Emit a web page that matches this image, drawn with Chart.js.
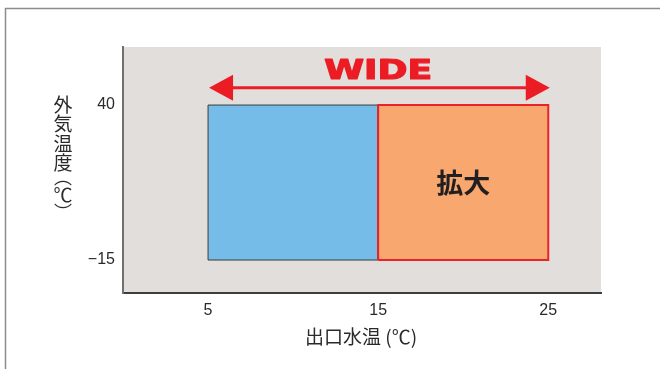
<!DOCTYPE html>
<html><head><meta charset="utf-8">
<script src="https://cdn.jsdelivr.net/npm/chart.js@4"></script>
<style>html,body{margin:0;padding:0;background:#fff;overflow:hidden}#wrap{width:660px;height:369px;position:relative}</style>
</head><body><div id="wrap"><canvas id="c" width="660" height="369"></canvas></div>
<script>
// ---- data ----
const xTicks = [5, 15, 25];
const yTicks = [-15, 40];
const yTickLabels = ['\u221215', '40'];
const zoneNames = ['従来範囲', '拡大'];
const zoneLabels = ['', '拡大'];
const zoneXFrom = [5, 15];
const zoneXTo = [15, 25];
const zoneYFrom = [-15, -15];
const zoneYTo = [40, 40];
const arrowXRange = [5, 25];
const arrowYValue = [46.1];
const arrowLabel = ['WIDE'];
const arrowLabelY = [52.6];
const xTitle = '出口水温 (℃)';
const yTitleChars = ['外', '気', '温', '度', '︵', '℃', '︶'];
const xRange = [0, 28.1];
const yRange = [-26.7, 60.6];

// ---- styles ----
const zoneFill = ['#75bde8', '#f8a86f'];
const zoneBorder = ['#3b3b3b', '#ec2229'];
const zoneBorderW = [1, 2];
const RED = '#ec1c24';
const TXT = '#2a2a2a';
const CJK = '"Noto Sans CJK JP", "Noto Sans CJK SC", sans-serif';

const datasets = zoneXFrom.map((x0, i) => ({
  label: zoneNames[i],
  data: [
    {x: x0, y: zoneYFrom[i]}, {x: x0, y: zoneYTo[i]},
    {x: zoneXTo[i], y: zoneYTo[i]}, {x: zoneXTo[i], y: zoneYFrom[i]},
    {x: x0, y: zoneYFrom[i]}
  ],
  fill: 'shape',
  backgroundColor: zoneFill[i],
  borderColor: zoneBorder[i],
  borderWidth: zoneBorderW[i],
  borderJoinStyle: 'miter',
  pointRadius: 0,
  pointHoverRadius: 0,
  tension: 0,
  order: zoneXFrom.length - i
}));

const decor = {
  id: 'decor',
  beforeDraw(chart) {
    const {ctx, chartArea: a} = chart;
    ctx.save();
    ctx.fillStyle = '#fff';
    ctx.fillRect(0, 0, chart.width, chart.height);
    ctx.fillStyle = '#e2dedc';
    ctx.fillRect(a.left, a.top, a.right - a.left, a.bottom - a.top);
    ctx.strokeStyle = '#8c8c8c';
    ctx.lineWidth = 1.5;
    ctx.beginPath();
    ctx.moveTo(5.5, chart.height + 2);
    ctx.lineTo(5.5, 8.5);
    ctx.lineTo(chart.width + 2, 8.5);
    ctx.stroke();
    ctx.restore();
  },
  afterDatasetsDraw(chart) {
    const {ctx, scales: {x, y}} = chart;
    ctx.save();
    // arrow
    const xa = x.getPixelForValue(arrowXRange[0]) + 1;
    const xb = x.getPixelForValue(arrowXRange[1]) + 1.5;
    const ya = y.getPixelForValue(arrowYValue[0]);
    const head = 24, half = 13;
    ctx.strokeStyle = RED; ctx.fillStyle = RED; ctx.lineWidth = 3;
    ctx.beginPath(); ctx.moveTo(xa + head - 2, ya); ctx.lineTo(xb - head + 2, ya); ctx.stroke();
    ctx.beginPath(); ctx.moveTo(xa, ya); ctx.lineTo(xa + head, ya - half); ctx.lineTo(xa + head, ya + half); ctx.closePath(); ctx.fill();
    ctx.beginPath(); ctx.moveTo(xb, ya); ctx.lineTo(xb - head, ya - half); ctx.lineTo(xb - head, ya + half); ctx.closePath(); ctx.fill();
    // WIDE
    const cx = x.getPixelForValue((arrowXRange[0] + arrowXRange[1]) / 2);
    const cy = y.getPixelForValue(arrowLabelY[0]);
    ctx.font = 'bold 26px "DejaVu Sans"';
    const w = ctx.measureText(arrowLabel[0]).width;
    ctx.translate(cx, cy + 9.5);
    ctx.scale(108 / w, 1);
    ctx.textAlign = 'center'; ctx.textBaseline = 'alphabetic';
    ctx.lineWidth = 1.2; ctx.lineJoin = 'round';
    ctx.fillText(arrowLabel[0], 0, 0);
    ctx.strokeText(arrowLabel[0], 0, 0);
    ctx.restore();
    // zone labels
    ctx.save();
    ctx.font = 'bold 27px ' + CJK;
    ctx.fillStyle = '#231f20';
    ctx.textAlign = 'center'; ctx.textBaseline = 'middle';
    zoneLabels.forEach((lab, i) => {
      if (!lab) return;
      const px = x.getPixelForValue((zoneXFrom[i] + zoneXTo[i]) / 2);
      const py = y.getPixelForValue((zoneYFrom[i] + zoneYTo[i]) / 2);
      ctx.fillText(lab, px, py);
    });
    ctx.restore();
  },
  afterDraw(chart) {
    const {ctx, chartArea: a} = chart;
    ctx.save();
    ctx.fillStyle = TXT;
    ctx.textAlign = 'center'; ctx.textBaseline = 'middle';
    ctx.font = '19px ' + CJK;
    ctx.fillText(xTitle, (a.left + a.right) / 2 - 1, 337);
    // vertical title, one character per row, ink-centred
    const rows = [104, 123.5, 143, 162.5, 183, 194.5, 206];
    ctx.textAlign = 'left'; ctx.textBaseline = 'alphabetic';
    yTitleChars.forEach((ch, i) => {
      ctx.font = (ch === '︵' || ch === '︶' ? '18px ' : '19px ') + CJK;
      const m = ctx.measureText(ch);
      const inkCx = (m.actualBoundingBoxRight - m.actualBoundingBoxLeft) / 2;
      const inkCy = (m.actualBoundingBoxDescent - m.actualBoundingBoxAscent) / 2;
      ctx.fillText(ch, 63 - inkCx, rows[i] - inkCy);
    });
    ctx.restore();
  }
};

new Chart(document.getElementById('c'), {
  type: 'line',
  data: {datasets},
  plugins: [decor],
  options: {
    responsive: false,
    animation: false,
    events: [],
    layout: {padding: {top: 47, right: 59, left: 0, bottom: 0}},
    plugins: {legend: {display: false}, tooltip: {enabled: false}, title: {display: false}},
    scales: {
      x: {
        type: 'linear', min: xRange[0], max: xRange[1],
        grid: {display: false, drawTicks: false},
        border: {display: true, color: '#3d3d3d', width: 2},
        ticks: {autoSkip: false, padding: 8, color: TXT, font: {family: '"Liberation Sans", Arial, sans-serif', size: 16}},
        afterBuildTicks: s => { s.ticks = xTicks.map(v => ({value: v})); },
        afterFit: s => { s.height = 76; }
      },
      y: {
        type: 'linear', min: yRange[0], max: yRange[1],
        grid: {display: false, drawTicks: false},
        border: {display: true, color: '#707070', width: 2},
        ticks: {autoSkip: false, padding: 8, color: TXT, font: {family: '"Liberation Sans", Arial, sans-serif', size: 16},
          callback: v => { const k = yTicks.indexOf(v); return k >= 0 ? yTickLabels[k] : ''; }},
        afterBuildTicks: s => { s.ticks = yTicks.map(v => ({value: v})); },
        afterFit: s => { s.width = 123; }
      }
    }
  }
});
</script></body></html>
